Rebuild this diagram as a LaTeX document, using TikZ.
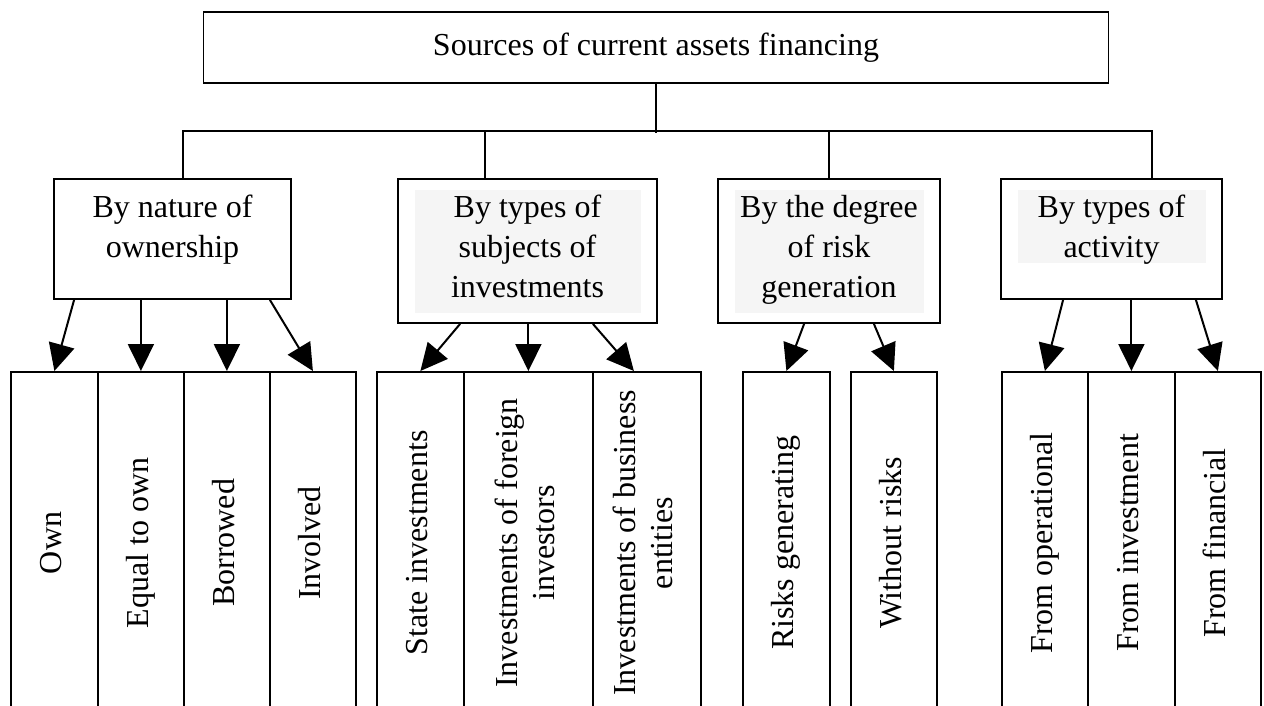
\documentclass[tikz,border=0pt]{standalone}
\usepackage{fontspec}
\setmainfont{Liberation Serif}
\usetikzlibrary{arrows.meta,calc}

\newcommand{\vlabel}[1]{\rotatebox{90}{\begin{tabular}{@{}c@{}}#1\end{tabular}}}

\begin{document}
\begin{tikzpicture}[x=1pt,y=-1pt,
  box/.style={draw,line width=1.8pt,inner sep=0pt},
  lbl/.style={align=center,inner sep=0pt,anchor=north,
    font=\fontsize{32}{40}\selectfont},
  col/.style={draw,line width=1.8pt,inner sep=0pt,anchor=north west,
    minimum height=342pt,font=\fontsize{32}{37}\selectfont},
  wire/.style={line width=1.8pt},
  arr/.style={line width=2pt,-{Triangle[length=27pt,width=26pt]}},
  hl/.style={fill=black!4,draw=none}
]
\clip (0,0) rectangle (1264,706);
\fill[white] (0,0) rectangle (1264,706);

% root
\node[box,minimum width=905pt,minimum height=71pt,
  font=\fontsize{32}{39}\selectfont] (root) at (656,47.5)
  {Sources of current assets financing};

% classification boxes
\node[box,minimum width=237pt,minimum height=120pt] (b1) at (172.5,239) {};
\node[box,minimum width=259pt,minimum height=144pt] (b2) at (527.5,251) {};
\node[box,minimum width=222pt,minimum height=144pt] (b3) at (829,251) {};
\node[box,minimum width=221pt,minimum height=120pt] (b4) at (1111.5,239) {};

% shaded text backgrounds
\fill[hl] (415,190) rectangle (641,313);
\fill[hl] (735,190) rectangle (924,313);
\fill[hl] (1018,190) rectangle (1206,263);

\node[lbl] (l1) at (b1.north |- 0,195) {By nature of\\ownership};
\node[lbl] (l2) at (b2.north |- 0,195) {By types of\\subjects of\\investments};
\node[lbl] (l3) at (b3.north |- 0,195) {By the degree\\of risk\\generation};
\node[lbl] (l4) at (b4.north |- 0,195) {By types of\\activity};

% tree connectors
\draw[wire] (root.south) -- ++(0,49);
\draw[wire] ($(b1.north)+(10.5,0)$) -- ++(0,-47) -| ($(b4.north)+(40.5,0)$);
\draw[wire] ($(b2.north)+(-42.5,0)$) -- ++(0,-47);
\draw[wire] (b3.north) -- ++(0,-47);

% sources
\node[col,minimum width=87pt] (own) at (10,371) {\vlabel{Own}};
\node[col,minimum width=86pt] (eqown) at (97,371) {\vlabel{Equal to own}};
\node[col,minimum width=86pt] (borr) at (183,371) {\vlabel{Borrowed}};
\node[col,minimum width=86pt] (invl) at (269,371) {\vlabel{Involved}};

\node[col,minimum width=87pt] (state) at (376,371) {\vlabel{State investments}};
\node[col,minimum width=129pt] (foreign) at (463,371) {\vlabel{Investments of foreign\\investors}};
\node[col,minimum width=108pt] (business) at (592,371) {\vlabel{Investments of business\\entities}};

\node[col,minimum width=87pt] (riskg) at (742,371) {\vlabel{Risks generating}};
\node[col,minimum width=86pt] (norisk) at (850,371) {\vlabel{Without risks}};

\node[col,minimum width=86pt] (oper) at (1001,371) {\vlabel{From operational}};
\node[col,minimum width=87pt] (invest) at (1087,371) {\vlabel{From investment}};
\node[col,minimum width=86pt] (fin) at (1174,371) {\vlabel{From financial}};

% arrows
\draw[arr] ($(b1.south west)+(21,0)$) -- (own.north);
\draw[arr] (b1.south -| eqown.north) -- (eqown.north);
\draw[arr] (b1.south -| borr.north) -- (borr.north);
\draw[arr] ($(b1.south east)+(-22,0)$) -- (invl.north);

\draw[arr] ($(b2.south west)+(63,0)$) -- (state.north);
\draw[arr] (b2.south -| foreign.north) -- (foreign.north);
\draw[arr] ($(b2.south east)+(-65,0)$) -- ($(business.north)+(-13,0)$);

\draw[arr] ($(b3.south west)+(87,0)$) -- (riskg.north);
\draw[arr] ($(b3.south east)+(-67,0)$) -- (norisk.north);

\draw[arr] ($(b4.south west)+(63,0)$) -- (oper.north);
\draw[arr] (b4.south -| invest.north) -- (invest.north);
\draw[arr] ($(b4.south east)+(-27,0)$) -- (fin.north);
\end{tikzpicture}
\end{document}
